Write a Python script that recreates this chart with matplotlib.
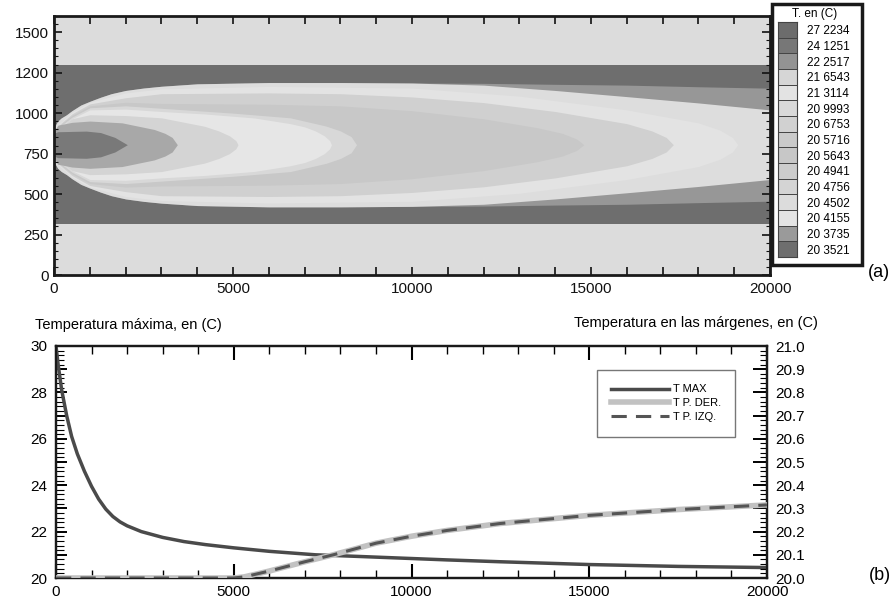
import numpy as np
import matplotlib
matplotlib.use("Agg")
import matplotlib.pyplot as plt
from matplotlib.patches import Rectangle
from matplotlib.ticker import MultipleLocator, FixedLocator, FixedFormatter, FormatStrFormatter

plt.rcParams['font.family'] = ['Liberation Sans', 'DejaVu Sans']

# ---------------- data: panel (a) ----------------
Y_TICKS = [0, 250, 500, 750, 1000, 1250, 1500]
Y_TICK_LABELS = ["0", "250", "500", "750", "1000", "1200", "1500"]
CHANNEL_LO, CHANNEL_HI = 315, 1295
CENTER = 805

X_PLUME = [0, 50, 100, 200, 350, 500, 750, 1000, 1300, 1600, 2000, 2500, 3000, 4000, 6000,
           8000, 10000, 12000, 14000, 16000, 18000, 20000]
HW_PLUME = [105, 125, 145, 165, 185, 210, 245, 268, 293, 315, 335, 350, 361, 376, 384,
            384, 381, 368, 335, 297, 258, 215]
HW_MEDIUM = [105, 125, 145, 165, 185, 210, 245, 268, 293, 315, 335, 350, 361, 376, 384,
             384, 381, 379, 373, 368, 358, 349]

X_RING = [0, 500, 1000, 2000, 3000, 6000, 10000, 13000, 16000, 18000, 18600, 18950, 19100]
HW_RING = [100, 200, 262, 320, 345, 360, 350, 300, 215, 135, 90, 45, 0]

X_BIGGRAY = [0, 500, 1000, 2000, 3000, 6000, 8000, 10000, 12000, 14000, 16000, 16700, 17100, 17300]
HW_BIGGRAY = [95, 190, 252, 290, 315, 320, 315, 295, 260, 205, 130, 85, 45, 0]

X_INNERGRAY = [0, 500, 1000, 2000, 3000, 6000, 8000, 10000, 12000, 13500, 14200, 14600, 14800]
HW_INNERGRAY = [90, 180, 240, 262, 255, 250, 240, 210, 160, 105, 70, 35, 0]

X_LRING = [0, 500, 1000, 2000, 3000, 5000, 6600, 7600, 8000, 8300, 8450]
HW_LRING = [85, 170, 228, 240, 225, 195, 166, 115, 85, 50, 0]

X_BRIGHT = [0, 500, 1000, 2000, 3000, 4200, 5600, 6600, 7000, 7300, 7550, 7700, 7750]
HW_BRIGHT = [82, 160, 215, 220, 205, 190, 165, 130, 110, 85, 55, 25, 0]

X_LIGHT = [0, 500, 1000, 2000, 3000, 4200, 4600, 4900, 5080, 5140]
HW_LIGHT = [78, 160, 185, 180, 166, 114, 85, 55, 25, 0]

X_MID = [0, 100, 500, 1000, 1900, 2800, 3100, 3300, 3445]
HW_MID = [72, 120, 138, 146, 135, 94, 70, 45, 0]

X_CORE = [0, 100, 900, 1300, 1700, 2048]
HW_CORE = [70, 80, 84, 75, 45, 0]

LEVEL_LABELS = ["27 2234", "24 1251", "22 2517", "21 6543", "21 3114", "20 9993",
                "20 6753", "20 5716", "20 5643", "20 4941", "20 4756", "20 4502",
                "20 4155", "20 3735", "20 3521"]
LEVEL_COLORS = ["#6c6c6c", "#777777", "#939393", "#d6d6d6", "#e3e3e3", "#d9d9d9",
                "#d1d1d1", "#cacaca", "#c7c7c7", "#cccccc", "#d4d4d4", "#dcdcdc",
                "#e4e4e4", "#9a9a9a", "#6e6e6e"]

# ---------------- data: panel (b) ----------------
X_TMAX = [0, 60, 160, 300, 440, 600, 800, 1000, 1200, 1400, 1600, 1800, 2000, 2400, 3000,
          3600, 4200, 5000, 6000, 7300, 8500, 10000, 11000, 12500, 15000, 17500, 20000]
T_MAX = [30.0, 29.2, 28.1, 27.0, 26.1, 25.35, 24.6, 23.95, 23.4, 22.97, 22.65, 22.42, 22.25,
         22.0, 21.75, 21.57, 21.44, 21.3, 21.15, 21.0, 20.93, 20.84, 20.78, 20.7, 20.58,
         20.5, 20.45]

X_MARGIN = [0, 5000, 5300, 6000, 7000, 7800, 9000, 10000, 11000, 12500, 15000, 17500, 20000]
T_DER = [20.0, 20.0, 20.005, 20.03, 20.07, 20.10, 20.15, 20.18, 20.205, 20.235, 20.27, 20.295, 20.315]
T_IZQ = [20.0, 20.0, 20.005, 20.03, 20.07, 20.10, 20.15, 20.18, 20.205, 20.235, 20.27, 20.295, 20.315]

W, H = 896, 602
fig = plt.figure(figsize=(W / 100, H / 100), dpi=100)

def fx(px):
    return px / W

def fy(py):
    return 1 - py / H

# ---------------- panel (a) ----------------
ax = fig.add_axes([fx(54), fy(275), (770 - 54) / W, (275 - 16) / H])
ax.set_facecolor('#dcdcdc')
ax.set_xlim(0, 20000)
ax.set_ylim(0, 1600)
ax.axhspan(CHANNEL_LO, CHANNEL_HI, color='#6e6e6e', lw=0, zorder=0.5)

shells = [
    (X_PLUME, HW_MEDIUM, '#979797'),
    (X_PLUME, HW_PLUME, '#dddddd'),
    (X_RING, HW_RING, '#e3e3e3'),
    (X_BIGGRAY, HW_BIGGRAY, '#d0d0d0'),
    (X_INNERGRAY, HW_INNERGRAY, '#c8c8c8'),
    (X_LRING, HW_LRING, '#d8d8d8'),
    (X_BRIGHT, HW_BRIGHT, '#e6e6e6'),
    (X_LIGHT, HW_LIGHT, '#d4d4d4'),
    (X_MID, HW_MID, '#a8a8a8'),
    (X_CORE, HW_CORE, '#797979'),
]
for xs, hw, col in shells:
    xs = np.asarray(xs, float)
    hw = np.asarray(hw, float)
    ax.fill_between(xs, CENTER - hw, CENTER + hw, color=col, lw=0, zorder=1)

ax.xaxis.set_major_locator(MultipleLocator(5000))
ax.xaxis.set_minor_locator(MultipleLocator(1000))
ax.yaxis.set_major_locator(FixedLocator(Y_TICKS))
ax.yaxis.set_major_formatter(FixedFormatter(Y_TICK_LABELS))
ax.yaxis.set_minor_locator(MultipleLocator(50))
ax.tick_params(axis='both', which='both', direction='in', top=True, right=True,
               labelsize=11, colors='#111111')
ax.tick_params(axis='x', which='both', length=6, width=1.2, pad=5)
ax.tick_params(axis='y', which='major', length=6, width=1.2, pad=4)
ax.tick_params(axis='y', which='minor', length=3, width=0.8)
for s in ax.spines.values():
    s.set_linewidth(2.0)
    s.set_color('#1a1a1a')
    s.set_zorder(5)

# colour legend box
cax = fig.add_axes([fx(778), fy(257), 19 / W, (257 - 22) / H])
n = len(LEVEL_LABELS)
cax.barh(np.arange(n), 1, height=1, color=LEVEL_COLORS, edgecolor='#444444', lw=0.7)
cax.set_ylim(n - 0.5, -0.5)
cax.set_xlim(0, 1)
cax.set_xticks([])
cax.yaxis.tick_right()
cax.set_yticks(np.arange(n))
cax.set_yticklabels(LEVEL_LABELS)
cax.tick_params(axis='y', length=0, pad=7, labelsize=8.5)
for s in cax.spines.values():
    s.set_linewidth(0.8)
    s.set_color('#444444')
fig.add_artist(Rectangle((fx(772), fy(265)), 90 / W, 261 / H, transform=fig.transFigure,
                         fill=False, lw=2.5, ec='#1a1a1a'))
fig.text(fx(815), fy(14), "T. en (C)", ha='center', va='center', fontsize=8.5)
fig.text(fx(879), fy(272), "(a)", ha='center', va='center', fontsize=13)

# ---------------- panel (b) ----------------
ax2 = fig.add_axes([fx(56), fy(578), (767 - 56) / W, (578 - 346) / H])
ax2.set_xlim(0, 20000)
ax2.set_ylim(20, 30)
l1, = ax2.plot(X_TMAX, T_MAX, color='#4a4a4a', lw=2.5, label='T MAX', zorder=3)
ax2.xaxis.set_major_locator(MultipleLocator(5000))
ax2.xaxis.set_minor_locator(MultipleLocator(1000))
ax2.yaxis.set_major_locator(FixedLocator(list(range(20, 31))))
ax2.yaxis.set_major_formatter(FixedFormatter([str(v) if v % 2 == 0 else '' for v in range(20, 31)]))
ax2.yaxis.set_minor_locator(MultipleLocator(0.2))
ax2.tick_params(axis='x', which='both', direction='in', top=True, bottom=True, labelsize=11, pad=5)
ax2.tick_params(axis='x', which='major', length=10, width=1.5)
ax2.tick_params(axis='x', which='minor', length=6, width=1.0)
ax2.tick_params(axis='y', which='both', direction='in', left=True, right=False, labelsize=11, pad=6)
ax2.tick_params(axis='y', which='major', length=8, width=1.4)
ax2.tick_params(axis='y', which='minor', length=6, width=0.8)
for s in ax2.spines.values():
    s.set_linewidth(1.6)
    s.set_color('#1a1a1a')

ax3 = ax2.twinx()
ax3.set_ylim(20.0, 21.0)
l2, = ax3.plot(X_MARGIN, T_DER, color='#c2c2c2', lw=4, label='T P. DER.', zorder=3)
l3, = ax3.plot(X_MARGIN, T_IZQ, color='#555555', lw=2.2, ls=(0, (5, 3)), label='T P. IZQ.', zorder=4)
ax3.yaxis.set_major_locator(MultipleLocator(0.1))
ax3.yaxis.set_minor_locator(MultipleLocator(0.02))
ax3.yaxis.set_major_formatter(FormatStrFormatter('%.1f'))
ax3.tick_params(axis='y', which='both', direction='in', right=True, labelsize=11, pad=6)
ax3.tick_params(axis='y', which='major', length=10, width=1.4)
ax3.tick_params(axis='y', which='minor', length=5, width=0.8)
for s in ax3.spines.values():
    s.set_linewidth(1.6)
    s.set_color('#1a1a1a')

leg = ax3.legend(handles=[l1, l2, l3], loc='upper left',
                 bbox_to_anchor=(fx(597), fy(370)), bbox_transform=fig.transFigure,
                 fontsize=8, frameon=True, fancybox=False, handlelength=5.2,
                 labelspacing=0.35, borderpad=1.3, handletextpad=0.3,
                 borderaxespad=0)
leg.get_frame().set_edgecolor('#555555')
leg.get_frame().set_linewidth(1.0)

fig.text(fx(35), fy(325), "Temperatura máxima, en (C)", ha='left', va='center', fontsize=10.5)
fig.text(fx(818), fy(323), "Temperatura en las márgenes, en (C)", ha='right', va='center', fontsize=10.5)
fig.text(fx(880), fy(575), "(b)", ha='center', va='center', fontsize=13)

fig.savefig("out.png", dpi=100)
